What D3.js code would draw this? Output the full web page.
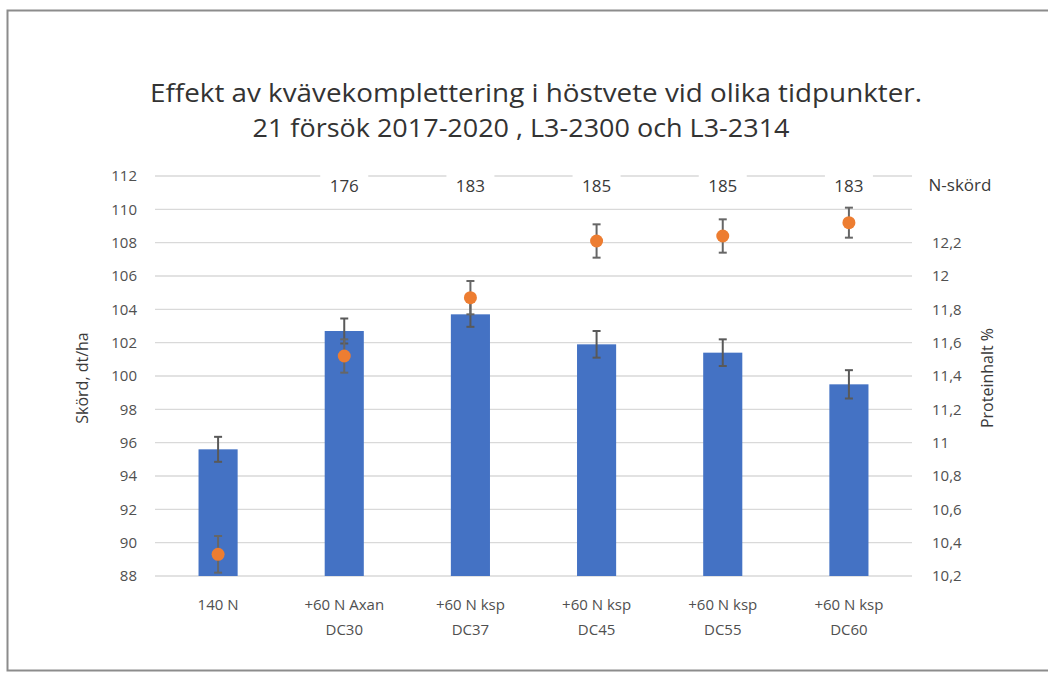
<!DOCTYPE html>
<html>
<head>
<meta charset="utf-8">
<script src="https://cdn.jsdelivr.net/npm/d3@7"></script>
<style>
  html, body { margin: 0; padding: 0; background: #fff; }
  svg { display: block; }
  text { font-family: "Open Sans", "Noto Sans", sans-serif; }
</style>
</head>
<body>
<svg id="chart" width="1048" height="673"></svg>
<script>
// Treatments (two-line category labels)
const categories = [
  ["140 N", ""],
  ["+60 N Axan", "DC30"],
  ["+60 N ksp", "DC37"],
  ["+60 N ksp", "DC45"],
  ["+60 N ksp", "DC55"],
  ["+60 N ksp", "DC60"]
];
// Yield, dt/ha (bars) and its error
const yieldValues = [95.6, 102.7, 103.7, 101.9, 101.4, 99.5];
const yieldError  = [0.75, 0.75, 0.75, 0.8, 0.8, 0.85];
// Protein content, % (dots) and its error
const proteinValues = [10.33, 11.52, 11.87, 12.21, 12.24, 12.32];
const proteinError  = [0.11, 0.10, 0.10, 0.10, 0.10, 0.09];
// Nitrogen harvest per treatment (first treatment has none)
const nHarvest = [null, 176, 183, 185, 185, 183];
// Axis ticks
const leftTicks  = [88, 90, 92, 94, 96, 98, 100, 102, 104, 106, 108, 110, 112];
const rightTicks = [10.2, 10.4, 10.6, 10.8, 11, 11.2, 11.4, 11.6, 11.8, 12, 12.2];

const svg = d3.select("#chart");

// outer frame
svg.append("rect")
  .attr("x", 7.5).attr("y", 10.5)
  .attr("width", 1100).attr("height", 660)
  .attr("fill", "none").attr("stroke", "#8c8c8c").attr("stroke-width", 2);

const plot = { left: 155, right: 912, top: 176, bottom: 576 };

const x = d3.scaleBand()
  .domain(d3.range(categories.length))
  .range([plot.left, plot.right])
  .paddingInner(0.69).paddingOuter(0.345);

const yL = d3.scaleLinear().domain([88, 112]).range([plot.bottom, plot.top]);
const yR = d3.scaleLinear().domain([10.2, 12.6]).range([plot.bottom, plot.top]);

const fmtR = v => d3.format(".1~f")(v).replace(".", ",");

// gridlines
svg.append("g")
  .selectAll("line").data(leftTicks).join("line")
  .attr("x1", plot.left).attr("x2", plot.right)
  .attr("y1", d => yL(d)).attr("y2", d => yL(d))
  .attr("stroke", "#d9d9d9").attr("stroke-width", 1.3);

// left axis
const leftAxis = svg.append("g")
  .attr("transform", `translate(${plot.left - 18},0)`)
  .call(d3.axisLeft(yL).tickValues(leftTicks).tickSize(0).tickPadding(0));
leftAxis.select(".domain").remove();
leftAxis.selectAll("text").attr("fill", "#505050").style("font-size", "15px");

// right axis
const rightAxis = svg.append("g")
  .attr("transform", `translate(${plot.right + 20},0)`)
  .call(d3.axisRight(yR).tickValues(rightTicks).tickFormat(fmtR).tickSize(0).tickPadding(0));
rightAxis.select(".domain").remove();
rightAxis.selectAll("text").attr("fill", "#505050").style("font-size", "15px");

// axis titles
svg.append("text")
  .attr("transform", `translate(84,378) rotate(-90)`)
  .attr("text-anchor", "middle").attr("dominant-baseline", "middle")
  .attr("fill", "#3a3a3a").style("font-size", "16px")
  .text("Skörd, dt/ha");
svg.append("text")
  .attr("transform", `translate(989,378) rotate(-90)`)
  .attr("text-anchor", "middle").attr("dominant-baseline", "middle")
  .attr("fill", "#3a3a3a").style("font-size", "16px")
  .text("Proteinhalt %");

// category labels
const catG = svg.append("g");
categories.forEach((c, i) => {
  const cx = x(i) + x.bandwidth() / 2;
  c.forEach((line, k) => {
    if (!line) return;
    catG.append("text")
      .attr("x", cx).attr("y", 610 + k * 25)
      .attr("text-anchor", "middle")
      .attr("fill", "#505050").style("font-size", "15px")
      .text(line);
  });
});

// bars
svg.append("g")
  .selectAll("rect").data(yieldValues).join("rect")
  .attr("x", (d, i) => x(i))
  .attr("width", x.bandwidth())
  .attr("y", d => yL(d))
  .attr("height", d => yL(88) - yL(d))
  .attr("fill", "#4472c4");

// error bars helper
function errorBars(values, errors, scale, color) {
  const g = svg.append("g").attr("stroke", color).attr("stroke-width", 2);
  values.forEach((v, i) => {
    const cx = x(i) + x.bandwidth() / 2;
    const y1 = scale(v + errors[i]), y2 = scale(v - errors[i]);
    g.append("line").attr("x1", cx).attr("x2", cx).attr("y1", y1).attr("y2", y2);
    g.append("line").attr("x1", cx - 4).attr("x2", cx + 4).attr("y1", y1).attr("y2", y1);
    g.append("line").attr("x1", cx - 4).attr("x2", cx + 4).attr("y1", y2).attr("y2", y2);
  });
}
errorBars(yieldValues, yieldError, yL, "#595959");

// protein dots
errorBars(proteinValues, proteinError, yR, "#666666");
svg.append("g")
  .selectAll("circle").data(proteinValues).join("circle")
  .attr("cx", (d, i) => x(i) + x.bandwidth() / 2)
  .attr("cy", d => yR(d))
  .attr("r", 6.5)
  .attr("fill", "#ed7d31");

// N-harvest labels on the top gridline
const nG = svg.append("g");
nHarvest.forEach((v, i) => {
  if (v == null) return;
  const cx = x(i) + x.bandwidth() / 2;
  nG.append("rect")
    .attr("x", cx - 24).attr("y", plot.top - 10)
    .attr("width", 48).attr("height", 24).attr("fill", "#fff");
  nG.append("text")
    .attr("x", cx).attr("y", plot.top + 16)
    .attr("text-anchor", "middle")
    .attr("fill", "#3a3a3a").style("font-size", "17px")
    .text(v);
});
svg.append("text")
  .attr("x", 960).attr("y", plot.top + 15)
  .attr("text-anchor", "middle")
  .attr("fill", "#3a3a3a").style("font-size", "17px")
  .text("N-skörd");

// title
svg.append("text")
  .attr("x", 536).attr("y", 102)
  .attr("text-anchor", "middle")
  .attr("textLength", 772).attr("lengthAdjust", "spacingAndGlyphs")
  .attr("fill", "#333").style("font-size", "26px")
  .text("Effekt av kvävekomplettering i höstvete vid olika tidpunkter.");
svg.append("text")
  .attr("x", 521).attr("y", 137)
  .attr("text-anchor", "middle")
  .attr("textLength", 537).attr("lengthAdjust", "spacingAndGlyphs")
  .attr("fill", "#333").style("font-size", "26px")
  .text("21 försök 2017-2020 , L3-2300 och L3-2314");
</script>
</body>
</html>
